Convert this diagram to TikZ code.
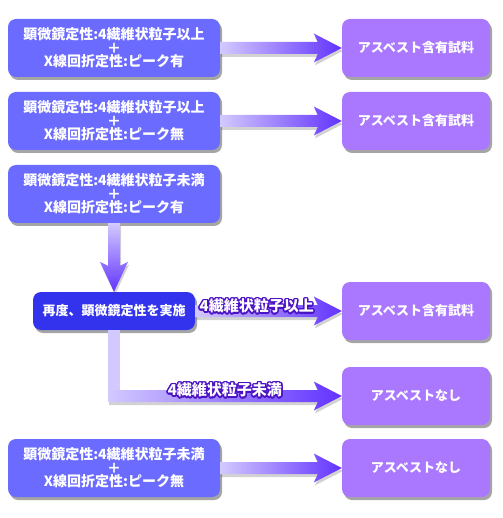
\documentclass[tikz,border=0pt]{standalone}
\usepackage{fontspec}
\newfontfamily\jpfont{Noto Sans CJK JP}
\usepackage{contour}
\usetikzlibrary{calc,positioning,shadows}
\definecolor{testcol}{HTML}{6B6BFF}
\definecolor{resultcol}{HTML}{A978FF}
\definecolor{recheckcol}{HTML}{3333EE}
\definecolor{arrowlight}{HTML}{D3C9FF}
\definecolor{arrowdark}{HTML}{6233FF}
\definecolor{glowcol}{HTML}{4B12C4}
\contourlength{1.5pt}
\contournumber{16}
\tikzset{%
	boxshadow/.style   = {drop shadow={shadow xshift=2pt, shadow yshift=-3pt, opacity=.5, fill=black!70}},
	testbox/.style     = {rectangle, rounded corners=8pt, fill=testcol, text=white, minimum width=212pt, minimum height=58pt, inner sep=0pt, align=center, font=\jpfont\bfseries\fontsize{14}{13.5}\selectfont, boxshadow},
	resultbox/.style   = {rectangle, rounded corners=8pt, fill=resultcol, text=white, minimum width=148pt, minimum height=58pt, inner sep=0pt, align=center, font=\jpfont\bfseries\fontsize{13}{13.5}\selectfont, boxshadow},
	recheckbox/.style  = {rectangle, rounded corners=8pt, fill=recheckcol, text=white, minimum width=162pt, minimum height=38pt, inner sep=0pt, align=center, font=\jpfont\bfseries\fontsize{13}{13.5}\selectfont, boxshadow},
	branchlabel/.style = {text=white, inner sep=0pt, font=\jpfont\bfseries\fontsize{15}{16}\selectfont},
	arrowshadow/.style = {drop shadow={shadow xshift=1pt, shadow yshift=-3pt, opacity=.25, fill=black!70}},
}
% fat shaded arrows between two points
\newcommand{\harrow}[2]{%
	\path[left color=arrowlight, right color=arrowdark, arrowshadow] let \p1=(#1), \p2=(#2) in
	(\x1,\y1-6pt) -- (\x2-24pt,\y1-6pt) -- (\x2-28pt,\y1-14.5pt) -- (\x2,\y1) -- (\x2-28pt,\y1+14.5pt) -- (\x2-24pt,\y1+6pt) -- (\x1,\y1+6pt) -- cycle;}
\newcommand{\varrow}[2]{%
	\path[top color=arrowlight, bottom color=arrowdark, arrowshadow] let \p1=(#1), \p2=(#2) in
	(\x1-6pt,\y1) -- (\x1-6pt,\y2+26pt) -- (\x1-14pt,\y2+30pt) -- (\x1,\y2) -- (\x1+14pt,\y2+30pt) -- (\x1+6pt,\y2+26pt) -- (\x1+6pt,\y1) -- cycle;}

\begin{document}
\begin{tikzpicture}[x=1pt,y=-1pt]
	\useasboundingbox (0,0) rectangle (502,518);
	% left column
	\node[testbox] (q1) at (114,48) {顕微鏡定性:4繊維状粒子以上\\＋\\X線回折定性:ピーク有};
	\node[testbox] (q2) at (114,121) {顕微鏡定性:4繊維状粒子以上\\＋\\X線回折定性:ピーク無};
	\node[testbox] (q3) at (114,194) {顕微鏡定性:4繊維状粒子未満\\＋\\X線回折定性:ピーク有};
	\node[recheckbox] (re) at (114,311) {再度、顕微鏡定性を実施};
	\node[testbox] (q5) at (114,468) {顕微鏡定性:4繊維状粒子未満\\＋\\X線回折定性:ピーク無};
	% right column
	\node[resultbox] (r1) at (416,48) {アスベスト含有試料};
	\node[resultbox] (r2) at (416,121) {アスベスト含有試料};
	\node[resultbox] (r3) at (416,311) {アスベスト含有試料};
	\node[resultbox] (r4) at (416,396) {アスベストなし};
	\node[resultbox] (r5) at (416,468) {アスベストなし};
	% arrows
	\harrow{q1.east}{r1.west}
	\harrow{q2.east}{r2.west}
	\varrow{q3.south}{re.north}
	\harrow{re.east}{r3.west}
	\coordinate (bend) at ([xshift=-6pt]re.south |- r4.west);
	\fill[arrowlight] ([xshift=-6pt]re.south) rectangle ([xshift=6pt,yshift=-6pt]re.south |- r4.west);
	\harrow{bend}{r4.west}
	\harrow{q5.east}{r5.west}
	% branch labels
	\node[branchlabel] (l1) at ([yshift=4pt]$(re.east)!0.42!(r3.west)$) {\contour{glowcol}{4繊維状粒子以上}};
	\node[branchlabel] (l2) at ([yshift=5pt]$(bend)!0.5!(r4.west)$) {\contour{glowcol}{4繊維状粒子未満}};
\end{tikzpicture}
\end{document}
